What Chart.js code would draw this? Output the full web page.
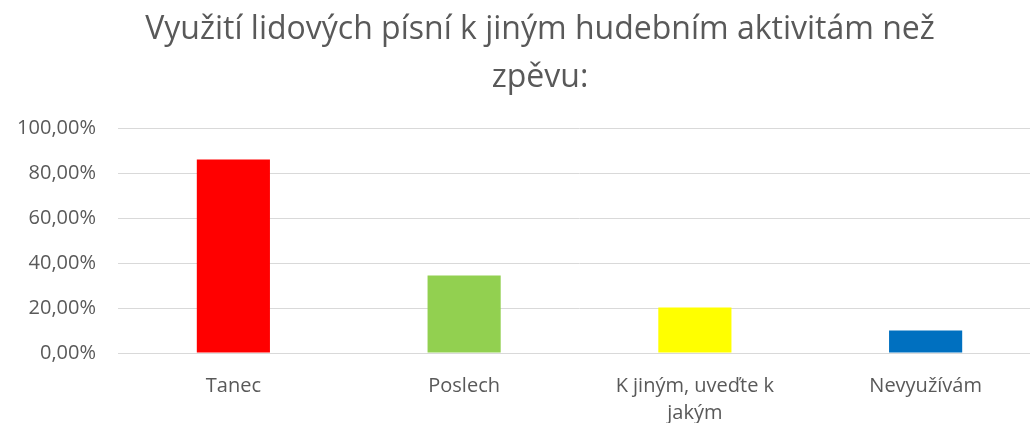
<!DOCTYPE html>
<html>
<head>
<meta charset="utf-8">
<script src="https://cdn.jsdelivr.net/npm/chart.js@4"></script>
<style>
  html, body { margin: 0; padding: 0; background: #fff; overflow: hidden; }
  #wrap { position: relative; width: 1030px; height: 423px; overflow: hidden; }
  #plot { position: absolute; left: 0; top: 0; width: 1041px; height: 423px; }
  #title {
    position: absolute; top: 3px; left: 50px; right: 0;
    text-align: center; color: #595959;
    font-family: 'Open Sans', sans-serif; font-size: 32px; line-height: 48px;
    pointer-events: none;
  }
</style>
</head>
<body>
<div id="wrap">
  <div id="plot"><canvas id="chart"></canvas></div>
  <div id="title"></div>
</div>
<script>
const categories = ['Tanec', 'Poslech', ['K jiným, uveďte k', 'jakým'], 'Nevyužívám'];
const values = [86.0, 34.4, 20.2, 10.0];
const barColors = ['#ff0000', '#92d050', '#ffff00', '#0070c0'];
const titleLines = ['Využití lidových písní k jiným hudebním aktivitám než', 'zpěvu:'];

const titleEl = document.getElementById('title');
titleLines.forEach(function(line) {
    const d = document.createElement('div');
    d.textContent = line;
    titleEl.appendChild(d);
});

// the reference is cropped on the right, so the plot is a bit wider than the window
const ctx = document.getElementById('chart').getContext('2d');
new Chart(ctx, {
    type: 'bar',
    data: {
        labels: categories,
        datasets: [{
            data: values,
            backgroundColor: barColors,
            borderWidth: 0,
            categoryPercentage: 1,
            barPercentage: 0.317
        }]
    },
    options: {
        responsive: true,
        maintainAspectRatio: false,
        animation: false,
        layout: { padding: { left: 8, right: 0, top: 128, bottom: 0 } },
        plugins: {
            legend: { display: false },
            tooltip: { enabled: false },
            title: { display: false }
        },
        scales: {
            x: {
                grid: { display: false },
                border: { color: '#d9d9d9' },
                afterFit: function(scale) { scale.height = 70; },
                ticks: {
                    color: '#595959',
                    font: { family: 'Open Sans', size: 20, lineHeight: 1.35 },
                    padding: 12,
                    maxRotation: 0
                }
            },
            y: {
                min: 0,
                max: 100,
                afterFit: function(scale) { scale.width = 110; },
                ticks: {
                    stepSize: 20,
                    color: '#595959',
                    font: { family: 'Open Sans', size: 20 },
                    padding: 22,
                    callback: function(v) {
                        return v.toFixed(2).replace('.', ',') + '%';
                    }
                },
                grid: { color: '#d9d9d9', drawTicks: false },
                border: { display: false }
            }
        }
    }
});
</script>
</body>
</html>
